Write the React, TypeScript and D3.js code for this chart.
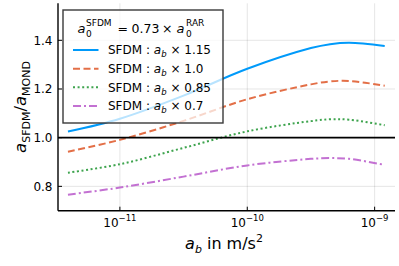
import React from "react";
import * as d3 from "d3";

// ---- data ----
const abValues = [3.91e-12, 1.0e-11, 3.16e-11, 1.0e-10, 3.16e-10, 4.47e-10, 6.31e-10, 1.2e-9];
const sfdm115 = [1.025, 1.078, 1.173, 1.283, 1.368, 1.384, 1.39, 1.377];
const sfdm100 = [0.9425, 0.991, 1.069, 1.158, 1.219, 1.231, 1.233, 1.2135];
const sfdm085 = [0.856, 0.891, 0.958, 1.026, 1.068, 1.0755, 1.074, 1.051];
const sfdm070 = [0.766, 0.795, 0.84, 0.886, 0.913, 0.916, 0.913, 0.888];
const factorLabels = ["1.15", "1.0", "0.85", "0.7"];
const xTickVals = [1e-11, 1e-10, 1e-9];
const xTickExps = ["−11", "−10", "−9"];
const yTickVals = [0.8, 1.0, 1.2, 1.4];
const yTickLabels = ["0.8", "1.0", "1.2", "1.4"];
const refLine = 1.0;

const seriesList = [
  { values: sfdm115, label: factorLabels[0], color: "#009AFA", dash: "" },
  { values: sfdm100, label: factorLabels[1], color: "#E36F47", dash: "7,3.5" },
  { values: sfdm085, label: factorLabels[2], color: "#3EA44E", dash: "2,2.6" },
  { values: sfdm070, label: factorLabels[3], color: "#C371D2", dash: "8,3,2,3" },
];

const FONT = "'DejaVu Sans', sans-serif";

export default function App() {
  const W = 399, H = 266;
  const left = 58, right = 395, top = 3.3, bottom = 210.7;
  const x = d3.scaleLog().domain([3.266e-12, 1.445e-9]).range([left, right]);
  const y = d3.scaleLinear().domain([0.7, 1.552]).range([bottom, top]);
  const line = d3
    .line<number>()
    .x((_, i) => x(abValues[i]))
    .y((v) => y(v))
    .curve(d3.curveCatmullRom.alpha(0.5));

  const lx = 63, ly = 10, lw = 160, lh = 113;
  const rowY = [50, 68.7, 87.3, 106];

  return (
    <svg width={W} height={H} style={{ position: "absolute", left: 0, top: 0, background: "#fff" }} fontFamily={FONT}>
      <rect x={0} y={0} width={W} height={H} fill="#fff" />
      {/* grid */}
      {xTickVals.map((t, i) => (
        <line key={"gx" + i} x1={x(t)} x2={x(t)} y1={top} y2={bottom} stroke="#000" strokeOpacity={0.1} strokeWidth={1} />
      ))}
      {yTickVals.map((t, i) => (
        <line key={"gy" + i} x1={left} x2={right} y1={y(t)} y2={y(t)} stroke="#000" strokeOpacity={0.1} strokeWidth={1} />
      ))}
      {/* series */}
      {seriesList.map((s, i) => (
        <path key={"s" + i} d={line(s.values) || ""} fill="none" stroke={s.color} strokeWidth={2} strokeDasharray={s.dash} />
      ))}
      {/* reference line */}
      <line x1={left} x2={right} y1={y(refLine)} y2={y(refLine)} stroke="#000" strokeWidth={1.6} />
      {/* axes */}
      <line x1={left} x2={left} y1={top} y2={bottom} stroke="#000" strokeWidth={1.4} />
      <line x1={left} x2={right} y1={bottom} y2={bottom} stroke="#000" strokeWidth={1.4} />
      {xTickVals.map((t, i) => (
        <g key={"xt" + i}>
          <line x1={x(t)} x2={x(t)} y1={bottom} y2={bottom - 4} stroke="#000" strokeWidth={1} />
          <text x={x(t)} y={227} fontSize={12} textAnchor="middle" fill="#000">
            10<tspan fontSize={8.5} dy={-6}>{xTickExps[i]}</tspan>
          </text>
        </g>
      ))}
      {yTickVals.map((t, i) => (
        <g key={"yt" + i}>
          <line x1={left} x2={left + 4} y1={y(t)} y2={y(t)} stroke="#000" strokeWidth={1} />
          <text x={52.5} y={y(t) + 4.3} fontSize={12} textAnchor="end" fill="#000">
            {yTickLabels[i]}
          </text>
        </g>
      ))}
      {/* x label */}
      <text x={224} y={249} fontSize={16} textAnchor="middle" fill="#000">
        <tspan fontStyle="italic">a</tspan>
        <tspan fontSize={11} fontStyle="italic" dy={3.5}>b</tspan>
        <tspan dy={-3.5}> in m/s</tspan>
        <tspan fontSize={11} dy={-7}>2</tspan>
      </text>
      {/* y label */}
      <text transform={`translate(26,${(top + bottom) / 2}) rotate(-90)`} fontSize={16.5} textAnchor="middle" fill="#000">
        <tspan fontStyle="italic">a</tspan>
        <tspan fontSize={11} dy={3.5}>SFDM</tspan>
        <tspan dy={-3.5}>/</tspan>
        <tspan fontStyle="italic">a</tspan>
        <tspan fontSize={11} dy={3.5}>MOND</tspan>
      </text>
      {/* legend */}
      <rect x={lx} y={ly} width={lw} height={lh} fill="#fff" fillOpacity={0.72} stroke="#3a3a3a" strokeWidth={1.4} />
      <g fill="#000">
        <text x={77.5} y={33} fontSize={13} fontStyle="italic">a</text>
        <text x={86} y={26} fontSize={9}>SFDM</text>
        <text x={86} y={36.5} fontSize={9}>0</text>
        <text x={117.5} y={33} fontSize={12.5}>=</text>
        <text x={131.5} y={33} fontSize={12.5}>0.73</text>
        <text x={162} y={33} fontSize={12.5}>×</text>
        <text x={176.5} y={33} fontSize={13} fontStyle="italic">a</text>
        <text x={186} y={26} fontSize={9}>RAR</text>
        <text x={186} y={36.5} fontSize={9}>0</text>
      </g>
      {seriesList.map((s, i) => (
        <g key={"lg" + i}>
          <line x1={73} x2={98.5} y1={rowY[i]} y2={rowY[i]} stroke={s.color} strokeWidth={2} strokeDasharray={s.dash} />
          <text x={108} y={rowY[i] + 4.3} fontSize={12} fill="#000">
            SFDM : <tspan fontStyle="italic">a</tspan>
            <tspan fontSize={8.5} fontStyle="italic" dy={3}>b</tspan>
            <tspan dy={-3}> × {s.label}</tspan>
          </text>
        </g>
      ))}
    </svg>
  );
}
